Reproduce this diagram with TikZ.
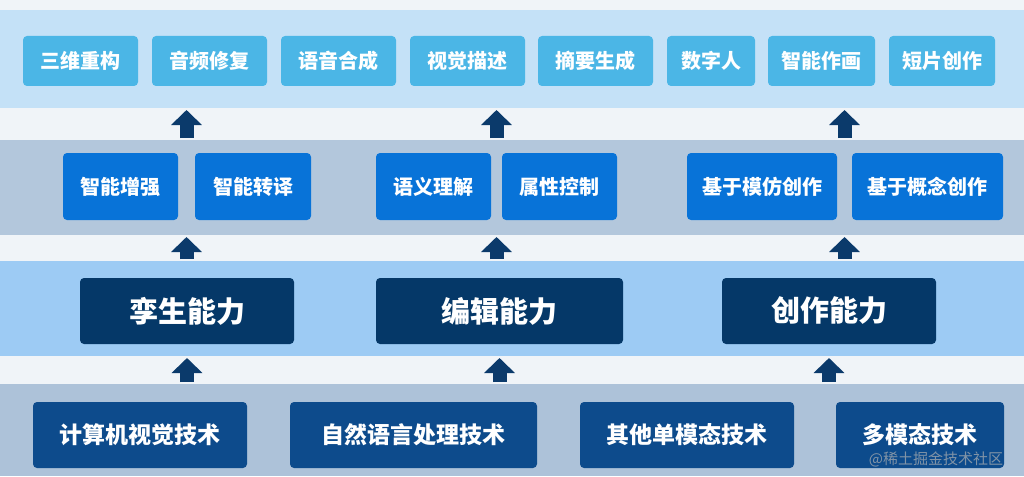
\documentclass[tikz,border=0pt]{standalone}
\usepackage{fontspec}
\newfontfamily\cjk{Noto Sans CJK SC}
\usetikzlibrary{arrows.meta,calc}
\definecolor{pagebg}{HTML}{F0F4F8}
\definecolor{bandA}{HTML}{C4E1F7}
\definecolor{bandB}{HTML}{B3C7DC}
\definecolor{bandC}{HTML}{9DCBF4}
\definecolor{bandD}{HTML}{ADC2D9}
\definecolor{appc}{HTML}{4BB6E6}
\definecolor{funcc}{HTML}{0873D8}
\definecolor{capc}{HTML}{053868}
\definecolor{techc}{HTML}{0D4B8C}
\definecolor{arrowc}{HTML}{0B3A6B}
\newcommand{\fs}[1]{\fontsize{#1pt}{#1pt}\selectfont}

\begin{document}
\begin{tikzpicture}[x=1pt,y=-1pt,
  band/.style={rectangle,inner sep=0,outer sep=0,anchor=north west,minimum width=1024pt},
  box/.style={rectangle,rounded corners=4pt,inner sep=0,outer sep=0,text=white},
  appbox/.style={box,fill=appc,minimum height=50pt,font=\cjk\bfseries\fs{20}},
  funcbox/.style={box,fill=funcc,minimum height=67pt,font=\cjk\bfseries\fs{20}},
  capbox/.style={box,fill=capc,minimum height=66pt,font=\cjk\bfseries\fs{29}},
  techbox/.style={box,fill=techc,minimum height=66pt,font=\cjk\bfseries\fs{23}},
  uparrow/.style={draw=arrowc,line width=14pt,-{Triangle[width=30pt,length=15pt]},shorten <=2pt,shorten >=2pt}]
  \useasboundingbox (0,0) rectangle (1024,476);
  \fill[pagebg] (0,0) rectangle (1024,476);
  % bands
  \node[band,fill=bandA,minimum height=98pt] (band1) at (0,10) {};
  \node[band,fill=bandB,minimum height=95pt] (band2) at (0,140) {};
  \node[band,fill=bandC,minimum height=95pt] (band3) at (0,261) {};
  \node[band,fill=bandD,minimum height=92pt] (band4) at (0,384) {};
  % applications
  \node[appbox,minimum width=115pt] (t1) at (80.5,61) {三维重构};
  \node[appbox,minimum width=115pt] (t2) at (209.5,61) {音频修复};
  \node[appbox,minimum width=115pt] (t3) at (338.5,61) {语音合成};
  \node[appbox,minimum width=115pt] (t4) at (467.5,61) {视觉描述};
  \node[appbox,minimum width=115pt] (t5) at (595.5,61) {摘要生成};
  \node[appbox,minimum width=88pt] (t6) at (711,61) {数字人};
  \node[appbox,minimum width=107pt] (t7) at (821.5,61) {智能作画};
  \node[appbox,minimum width=106pt] (t8) at (942,61) {短片创作};
  % functions
  \node[funcbox,minimum width=115pt] (s1) at (120.5,186.5) {智能增强};
  \node[funcbox,minimum width=116pt] (s2) at (253,186.5) {智能转译};
  \node[funcbox,minimum width=115pt] (s3) at (433.5,186.5) {语义理解};
  \node[funcbox,minimum width=115pt] (s4) at (559.5,186.5) {属性控制};
  \node[funcbox,minimum width=150pt] (s5) at (762,186.5) {基于模仿创作};
  \node[funcbox,minimum width=151pt] (s6) at (927.5,186.5) {基于概念创作};
  % capabilities
  \node[capbox,minimum width=214pt] (c1) at (187,311) {孪生能力};
  \node[capbox,minimum width=247pt] (c2) at (499.5,311) {编辑能力};
  \node[capbox,minimum width=214pt] (c3) at (829,311) {创作能力};
  % techniques
  \node[techbox,minimum width=214pt] (k1) at (140,435) {计算机视觉技术};
  \node[techbox,minimum width=247pt] (k2) at (413.5,435) {自然语言处理技术};
  \node[techbox,minimum width=214pt] (k3) at (687,435) {其他单模态技术};
  \node[techbox,minimum width=168pt] (k4) at (920,435) {多模态技术};
  % arrows
  \coordinate (m1) at ($(s1.east)!.5!(s2.west)$);
  \coordinate (m2) at ($(s3.east)!.5!(s4.west)$);
  \coordinate (m3) at ($(s5.east)!.5!(s6.west)$);
  \foreach \m in {m1,m2,m3}{
    \draw[uparrow] (\m |- band2.north) -- (\m |- band1.south);
    \draw[uparrow] (\m |- band3.north) -- (\m |- band2.south);
  }
  \foreach \c in {c1,c2,c3}
    \draw[uparrow] (\c |- band4.north) -- (\c |- band3.south);
  \node[text=gray!60,opacity=0.7,font=\cjk\fs{15}] (mark) at (936,459) {@稀土掘金技术社区};
\end{tikzpicture}
\end{document}
